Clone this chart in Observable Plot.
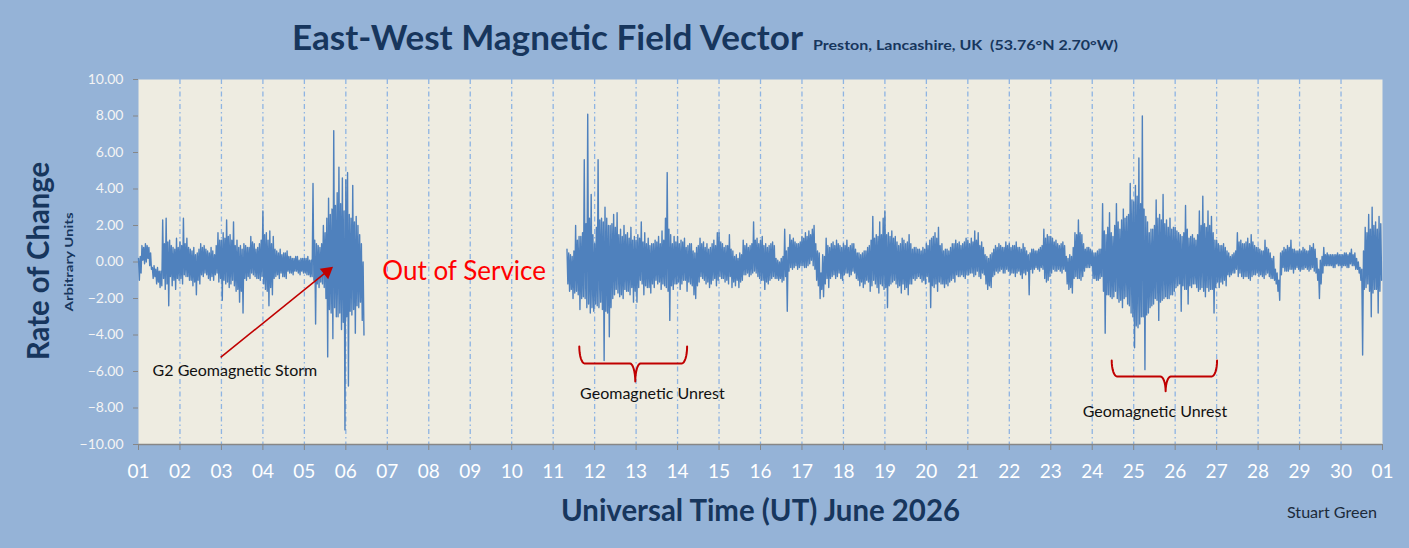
<!DOCTYPE html>
<html><head><meta charset="utf-8">
<script src="https://cdn.jsdelivr.net/npm/d3@7"></script>
<script src="https://cdn.jsdelivr.net/npm/@observablehq/plot@0.6"></script>
<style>
html,body{margin:0;padding:0;background:#95B3D7;}
#wrap{position:relative;width:1409px;height:548px;background:#95B3D7;overflow:hidden;font-family:Lato,sans-serif;}
#chart{position:absolute;left:0;top:0;}
#titles{position:absolute;left:0;top:0;pointer-events:none;}
</style></head><body>
<div id="wrap"><div id="chart"></div><svg id="titles" width="1409" height="548"></svg></div>
<script>
// ---- tick labels ----
const dayLabels = ["01","02","03","04","05","06","07","08","09","10","11","12","13","14","15","16","17","18","19","20","21","22","23","24","25","26","27","28","29","30","01"];
const yTicks = [-10,-8,-6,-4,-2,0,2,4,6,8,10];

// ---- hourly readings (rate of change, arbitrary units) ----
// junXX: the extreme reached in each hour; junXXc: the opposite extreme in the same hour
// segment 1: 1 June 00h .. 6 June 10h
const jun01  = [-1.0,0.3,0.9,-0.1,1.0,0.2,0.8,-0.4,-0.9,-0.2,-1.2,-0.3,-1.4,-0.5,2.3,-1.5,2.4,-2.4,1.2,-1.3,0.8,-1.5,1.3,-1.0];
const jun01c = [0.2,-0.6,0.1,0.8,0.0,0.9,-0.2,0.5,-0.3,-0.8,-0.4,-1.1,-0.5,-1.3,-0.9,1.0,-1.2,1.1,-0.8,0.9,-1.0,0.7,-0.9,0.8];
const jun02  = [1.1,-1.2,2.4,-0.8,1.3,-1.0,0.7,-1.3,0.8,-1.8,0.5,-1.2,1.0,-0.8,0.9,-0.7,0.6,-1.0,0.8,-1.0,0.4,-0.6,1.6,-0.9];
const jun02c = [-0.9,0.9,-0.7,1.0,-0.8,0.8,-1.0,0.6,-1.1,0.4,-1.0,0.7,-0.7,0.8,-0.6,0.7,-0.9,0.5,-0.8,0.6,-0.7,0.9,-1.1,1.2];
const jun03  = [-2.1,1.6,-1.2,2.3,-1.4,1.5,-1.0,2.2,-1.6,1.2,-2.2,0.9,-2.8,1.0,-1.0,0.8,-0.9,1.4,-0.7,1.0,-0.9,0.8,-1.0,1.2];
const jun03c = [1.2,-1.0,1.3,-1.1,1.4,-1.2,1.2,-1.3,0.9,-1.5,0.8,-1.6,0.7,-0.9,0.9,-0.8,0.8,-0.6,1.1,-0.8,0.7,-0.9,1.0,-0.8];
const jun04  = [2.8,-1.5,1.6,-2.4,1.7,-1.8,1.4,-0.8,0.6,-0.9,0.7,-0.8,0.5,-0.9,0.6,-0.6,0.3,-0.7,0.2,-0.5,0.3,-0.7,0.2,-0.6];
const jun04c = [-1.2,1.5,-1.6,1.2,-1.4,1.0,-0.9,0.7,-0.7,0.5,-0.6,0.4,-0.8,0.5,-0.5,0.3,-0.6,0.2,-0.5,0.3,-0.6,0.1,-0.5,0.2];
const jun05  = [0.2,-0.7,0.3,-0.8,0.1,4.3,-3.4,1.0,-1.4,0.8,-1.2,2.0,-2.0,-5.2,3.5,2.6,-4.2,7.2,-3.0,3.8,5.2,-3.7,4.6,-9.2];
const jun05c = [-0.6,0.2,-0.7,0.1,-0.8,-1.0,1.2,-1.2,0.9,-1.1,1.0,-1.4,1.6,2.4,-2.6,-2.8,2.9,-2.5,3.1,-3.0,-2.8,3.2,-3.3,2.8];
const jun06  = [4.5,-6.8,2.6,-2.9,4.2,-3.9,2.5,-2.5,1.5,-3.2,-4.0];
const jun06c = [-3.0,4.9,-2.7,2.4,-2.6,2.2,-2.4,2.0,-2.2,1.0,0.0];
// segment 2: 11 June 08h .. 30 June 23h
const jun11  = [0.7,-1.6,0.4,-2.0,0.6,2.0,-1.8,-2.6,1.4,-1.9,5.6,-2.5,8.1,-2.8,3.7,-2.7];
const jun11c = [-1.2,0.5,-1.5,0.3,-1.7,-1.6,1.2,1.4,-2.0,1.6,-2.0,2.1,-2.3,2.4,-2.5,1.5];
const jun12  = [1.0,-2.4,5.6,-2.2,2.4,-5.4,3.0,-2.8,-4.1,2.0,-2.0,2.6,-1.5,2.7,-1.9,1.8,-2.0,2.0,-1.6,1.6,-1.8,1.9,-2.2,1.4];
const jun12c = [-2.3,1.9,-2.5,2.3,-2.6,2.2,-2.7,2.4,2.0,-2.5,2.1,-1.8,1.9,-1.7,1.5,-1.8,1.4,-1.5,1.5,-1.6,1.3,-1.4,1.2,-1.6];
const jun13  = [-2.2,1.5,-1.0,2.2,-1.8,1.6,-1.4,1.3,-1.7,1.0,-1.4,1.2,-1.2,1.4,-1.5,1.7,-1.3,2.4,4.9,-3.2,1.5,-1.5,1.4,-1.2];
const jun13c = [1.2,-1.4,1.3,-1.2,1.1,-1.3,1.0,-1.4,0.9,-1.2,1.0,-1.0,1.1,-1.1,1.0,-1.2,1.2,-1.4,-1.6,1.8,-1.3,1.0,-1.2,1.1];
const jun14  = [1.4,-1.5,1.2,-1.0,1.3,-1.6,0.9,-1.2,1.0,-1.8,-2.0,0.8,-1.1,1.3,-0.9,1.1,-1.2,1.0,-1.4,0.8,-1.0,1.2,-1.3,1.6];
const jun14c = [-1.1,1.0,-1.2,1.1,-1.0,0.8,-1.1,1.0,-1.3,0.6,0.5,-1.3,0.9,-0.8,1.0,-1.0,0.8,-1.1,0.7,-1.2,1.0,-0.9,0.9,-1.0];
const jun15  = [1.6,-0.9,1.0,-1.1,0.9,-1.2,1.5,-1.4,0.6,-1.3,0.4,-1.4,0.5,-1.0,1.2,-0.7,1.0,-0.8,0.9,-0.6,2.2,-0.6,1.3,-0.9];
const jun15c = [-0.8,1.1,-0.9,0.8,-1.0,0.9,-0.8,0.7,-1.1,0.3,-1.0,0.2,-1.1,0.4,-0.7,0.9,-0.6,0.8,-0.7,1.0,-0.5,1.2,-0.8,1.0];
const jun16  = [-1.0,1.4,-1.5,1.0,-1.2,0.9,-0.9,1.1,-0.9,0.2,-1.0,0.0,-1.1,0.3,1.8,-2.7,0.8,1.5,-0.4,1.3,-0.2,1.0,-0.3,1.1];
const jun16c = [1.2,-1.0,0.9,-1.1,0.8,-1.0,1.0,-0.8,0.9,-0.9,0.1,-0.9,0.2,-1.0,-0.8,0.6,-0.5,-0.3,1.2,-0.3,1.1,-0.4,1.0,-0.2];
const jun17  = [1.4,-0.3,1.6,-0.2,1.7,0.1,1.8,2.0,-1.0,0.6,-2.0,-0.6,-1.9,0.3,1.3,-1.4,0.8,-0.8,1.1,-0.9,1.2,-0.6,0.9,-1.0];
const jun17c = [-0.2,1.3,-0.3,1.4,-0.1,1.5,-0.2,-0.4,1.0,-1.3,0.5,-1.5,0.4,-1.2,-0.9,0.9,-0.9,1.0,-0.7,0.9,-0.8,1.0,-0.9,0.8];
const jun18  = [1.0,-0.6,1.2,-0.8,0.9,-0.5,1.0,-0.9,0.5,-1.3,0.4,-1.4,0.6,-1.0,0.8,-1.6,1.2,2.5,-1.2,1.5,-1.7,2.2,-1.3,2.4];
const jun18c = [-0.7,0.9,-0.6,0.8,-0.7,1.0,-0.6,0.7,-1.0,0.5,-1.1,0.5,-1.2,0.6,-1.1,0.9,-1.3,-1.0,1.3,-1.4,1.4,-1.2,1.5,-1.5];
const jun19  = [2.8,-2.5,1.6,-1.2,1.7,-1.0,1.4,-1.4,0.9,-1.7,1.3,-1.5,1.0,-1.8,1.5,-1.2,0.7,-1.0,0.8,-0.8,0.7,-1.1,0.8,-1.2];
const jun19c = [-1.4,1.5,-1.3,1.4,-1.1,1.3,-1.2,1.1,-1.3,1.0,-1.2,1.2,-1.4,1.1,-1.2,1.0,-0.9,0.8,-0.9,0.7,-0.9,0.6,-1.0,0.7];
const jun20  = [-0.8,0.9,-2.5,1.3,-1.4,1.6,-1.6,1.9,-1.2,1.0,-1.4,0.7,-1.3,0.6,-1.0,1.0,-1.1,1.2,-0.8,1.1,-0.7,1.0,-0.9,1.3];
const jun20c = [1.0,-1.1,1.2,-1.3,1.4,-1.2,1.3,-1.1,0.9,-1.2,0.6,-1.2,0.7,-1.1,0.8,-0.9,1.0,-0.7,1.0,-0.8,0.9,-0.8,1.1,-0.7];
const jun21  = [1.2,-0.6,1.3,-0.8,1.7,-0.5,1.6,-0.9,1.1,-0.7,0.4,-1.5,0.2,-1.4,0.5,-0.7,0.9,-0.6,1.0,-0.4,0.8,-0.6,1.1,-0.5];
const jun21c = [-0.7,1.0,-0.6,1.1,-0.7,1.2,-0.8,0.9,-0.6,0.8,-1.2,0.3,-1.3,0.4,-0.8,0.7,-0.5,0.8,-0.5,0.9,-0.6,0.8,-0.4,0.9];
const jun22  = [1.0,-0.6,0.9,-0.8,1.1,-0.5,0.8,-0.9,1.0,-0.7,0.6,-1.8,0.5,-0.6,0.7,-0.3,0.6,-0.5,0.8,-0.4,1.8,-1.1,1.5,-0.8];
const jun22c = [-0.7,0.8,-0.6,0.9,-0.6,0.8,-0.7,0.7,-0.6,0.8,-0.5,0.4,-0.4,0.7,-0.4,0.6,-0.4,0.7,-0.3,0.9,-0.9,1.3,-1.0,1.4];
const jun23  = [-0.6,1.3,-0.5,1.2,-0.4,0.9,-0.6,1.1,-0.5,0.3,-1.5,0.4,-1.7,0.8,1.6,-0.9,2.3,-1.0,1.5,-0.5,0.7,-0.3,0.8,-0.2];
const jun23c = [1.4,-0.4,1.1,-0.5,1.0,-0.5,1.0,-0.4,0.9,-1.2,0.2,-1.4,0.3,-0.9,-0.8,1.5,-0.9,1.6,-0.8,1.0,-0.3,0.8,-0.3,0.7];
const jun24  = [0.6,-0.9,0.5,-1.0,0.7,-0.8,3.2,-3.9,1.5,-1.8,2.7,-2.0,1.4,-1.6,3.2,-2.2,1.8,-2.5,2.9,-1.9,2.5,-2.4,4.3,-3.0];
const jun24c = [-0.9,0.5,-1.0,0.6,-0.9,0.7,-1.6,1.7,-1.8,1.9,-1.9,1.6,-1.9,2.0,-2.0,2.2,-2.1,2.3,-2.0,2.4,-2.3,2.6,-2.8,3.4];
const jun25  = [-4.7,4.2,-3.6,5.7,-3.0,8.0,-5.9,2.5,-2.8,1.6,-2.4,1.8,-2.0,3.4,-3.2,2.6,-2.1,3.7,-1.9,2.3,-2.0,2.4,-1.8,1.9];
const jun25c = [3.3,-3.5,3.6,-3.4,3.2,-3.0,2.9,-2.9,2.2,-2.5,1.8,-2.3,2.0,-2.1,2.4,-2.2,2.3,-2.0,2.1,-2.0,1.9,-1.8,1.8,-1.6];
const jun26  = [1.9,-1.3,1.6,-2.7,1.4,-1.5,3.1,-2.3,1.3,-1.4,1.5,-1.2,1.2,-1.6,2.8,-1.4,3.6,-1.9,1.9,2.8,-1.5,2.5,-2.8,1.2];
const jun26c = [-1.4,1.7,-1.2,1.5,-1.3,1.6,-1.5,1.8,-1.3,1.4,-1.2,1.3,-1.4,1.5,-1.5,2.0,-1.6,2.1,-1.4,-1.6,2.0,-1.5,1.6,-1.4];
const jun27  = [1.2,-1.4,0.9,-1.2,1.0,-1.3,0.6,-0.8,0.3,-0.6,0.5,-0.4,1.6,-0.6,1.2,-0.9,1.0,-0.8,1.3,-1.0,1.5,-0.7,0.9,-0.6];
const jun27c = [-1.1,1.0,-1.1,0.9,-1.0,0.8,-0.7,0.5,-0.7,0.4,-0.6,0.6,-0.8,1.1,-0.8,1.0,-0.8,1.1,-0.9,1.0,-0.8,1.1,-0.7,0.8];
const jun28  = [0.8,-0.7,0.6,-0.9,1.2,-0.6,0.7,-0.9,0.2,-1.0,-0.4,-1.6,-2.1,0.5,-0.3,0.8,-0.5,0.9,-0.4,1.2,-0.6,0.7,-0.3,0.6];
const jun28c = [-0.8,0.7,-0.8,0.6,-0.7,0.8,-0.8,0.5,-0.9,0.3,-1.2,-0.6,-1.0,-0.7,0.6,-0.5,0.7,-0.5,0.8,-0.4,0.7,-0.4,0.6,-0.4];
const jun29  = [0.7,-0.4,0.8,-0.3,0.6,-0.5,0.9,-0.3,1.0,-0.6,0.2,-2.0,-1.2,0.3,0.8,-0.2,0.5,-0.2,0.4,-0.3,0.4,-0.1,0.5,-0.2];
const jun29c = [-0.5,0.6,-0.4,0.7,-0.4,0.6,-0.4,0.8,-0.5,0.7,-1.0,-0.4,0.1,-0.6,-0.2,0.4,-0.2,0.4,-0.2,0.4,-0.3,0.4,-0.2,0.4];
const jun30  = [0.4,-0.2,0.5,-0.3,0.4,-0.1,0.7,-0.2,0.5,-0.4,-0.6,-1.0,-5.1,0.6,1.9,-1.2,2.6,-3.0,3.0,-1.5,2.2,-2.8,2.5,-1.0];
const jun30c = [-0.3,0.4,-0.2,0.5,-0.3,0.5,-0.2,0.4,-0.4,0.2,0.0,-0.3,-0.4,-1.5,-1.4,1.6,-1.6,1.8,-1.7,2.0,-1.5,1.8,-1.6,2.1];

// [day of month, first hour, extremes, opposite extremes]
const segment1 = [[1,0,jun01,jun01c],[2,0,jun02,jun02c],[3,0,jun03,jun03c],[4,0,jun04,jun04c],[5,0,jun05,jun05c],[6,0,jun06,jun06c]];
const segment2 = [[11,8,jun11,jun11c],[12,0,jun12,jun12c],[13,0,jun13,jun13c],[14,0,jun14,jun14c],[15,0,jun15,jun15c],[16,0,jun16,jun16c],[17,0,jun17,jun17c],[18,0,jun18,jun18c],[19,0,jun19,jun19c],[20,0,jun20,jun20c],[21,0,jun21,jun21c],[22,0,jun22,jun22c],[23,0,jun23,jun23c],[24,0,jun24,jun24c],[25,0,jun25,jun25c],[26,0,jun26,jun26c],[27,0,jun27,jun27c],[28,0,jun28,jun28c],[29,0,jun29,jun29c],[30,0,jun30,jun30c]];

// ---- annotations (x in days since 1 June 00:00 UT, y in units) ----
const redNotes = [{x: 5.88, y: -0.52, text: "Out of Service"}];
const blackNotes = [
  {x: 0.34, y: -5.95, text: "G2 Geomagnetic Storm"},
  {x: 10.65, y: -7.2, text: "Geomagnetic Unrest"},
  {x: 22.77, y: -8.19, text: "Geomagnetic Unrest"}
];
const arrows = [{x1: 1.98, y1: -5.23, x2: 4.63, y2: -0.36}];
const braces = [
  {id: "b1", x0: 10.63, x1: 13.23, xc: 11.98, yTop: -4.63, yMid: -5.56, yTip: -6.55},
  {id: "b2", x0: 23.47, x1: 26.01, xc: 24.77, yTop: -5.40, yMid: -6.27, yTip: -7.08}
];

// ---- build rows: per hour, max then min (half an hour apart) ----
const rows = [];
for (const seg of [segment1, segment2]) {
  for (const [day, h0, a, b] of seg) {
    a.forEach((v, i) => {
      const t = (day - 1) + (h0 + i) / 24;
      rows.push({t, v: Math.max(v, b[i])});
      rows.push({t: t + 0.5 / 24, v: Math.min(v, b[i])});
    });
  }
  rows.push({t: rows[rows.length - 1].t + 0.01, v: NaN});
}

const braceRows = [];
const N = 8, rx = 0.13;
for (const b of braces) {
  const pts = [];
  for (let k = 0; k <= N; k++) { const th = k / N * Math.PI / 2;
    pts.push([b.x0 + rx * (1 - Math.cos(th)), b.yTop + (b.yMid - b.yTop) * Math.sin(th)]); }
  for (let k = 0; k <= N; k++) { const th = k / N * Math.PI / 2;
    pts.push([b.xc - rx + rx * Math.sin(th), b.yMid + (b.yTip - b.yMid) * (1 - Math.cos(th))]); }
  for (let k = N; k >= 0; k--) { const th = k / N * Math.PI / 2;
    pts.push([b.xc + rx - rx * Math.sin(th), b.yMid + (b.yTip - b.yMid) * (1 - Math.cos(th))]); }
  for (let k = N; k >= 0; k--) { const th = k / N * Math.PI / 2;
    pts.push([b.x1 - rx * (1 - Math.cos(th)), b.yTop + (b.yMid - b.yTop) * Math.sin(th)]); }
  pts.forEach(([x, y]) => braceRows.push({id: b.id, x, y}));
}

const dayTicks = d3.range(0, 31);
const gridDays = d3.range(1, 30);

const plot = Plot.plot({
  width: 1409, height: 548,
  marginLeft: 138, marginRight: 27, marginTop: 79, marginBottom: 104,
  style: {background: "transparent", fontFamily: "Lato, sans-serif", overflow: "visible"},
  x: {domain: [0, 30], label: null},
  y: {domain: [-10, 10], label: null},
  marks: [
    Plot.frame({fill: "#EEECE1", stroke: "none"}),
    Plot.ruleX(gridDays, {stroke: "#8EB4E3", strokeWidth: 1.3, strokeDasharray: "5,3,1.5,3"}),
    Plot.line(rows, {x: "t", y: "v", stroke: "#4F81BD", strokeWidth: 1.4}),
    Plot.ruleY([-10], {stroke: "#878787", strokeWidth: 1.5}),
    Plot.axisX({ticks: dayTicks, tickSize: 6, tickFormat: () => "", stroke: "#878787", label: null}),
    Plot.axisX({ticks: dayTicks, tickSize: 0, tickPadding: 20, tickFormat: i => dayLabels[i], fill: "#FFFFFF", fontSize: 19, label: null}),
    Plot.axisY({ticks: yTicks, tickSize: 5, tickPadding: 10, tickFormat: d3.format(".2f"), stroke: "#878787", fill: "#F4F4F4", fontSize: 14, label: null}),
    Plot.line(braceRows, {x: "x", y: "y", z: "id", stroke: "#C00000", strokeWidth: 2}),
    Plot.link(arrows, {x1: "x1", y1: "y1", x2: "x2", y2: "y2", stroke: "#C00000", strokeWidth: 1.6}),
    Plot.dot(arrows, {x: "x2", y: "y2", symbol: "triangle", r: 5, fill: "#C00000", stroke: "none", rotate: 51, dx: -3.5, dy: 3}),
    Plot.text(redNotes, {x: "x", y: "y", text: "text", fill: "#FF0000", fontSize: 26, textAnchor: "start"}),
    Plot.text(blackNotes, {x: "x", y: "y", text: "text", fill: "#111111", fontSize: 16, textAnchor: "start"})
  ]
});
document.getElementById("chart").appendChild(plot);

// ---- titles ----
const titles = [
  {text: "East-West Magnetic Field Vector", x: 292, y: 50, size: 35, weight: 700, len: 511, fill: "#17365D"},
  {text: "Preston, Lancashire, UK  (53.76°N 2.70°W)", x: 813, y: 50, size: 14, weight: 700, len: 305, fill: "#17365D"},
  {text: "Universal Time (UT) June 2026", x: 561, y: 521, size: 30, weight: 700, len: 399, fill: "#17365D"},
  {text: "Stuart Green", x: 1287, y: 518, size: 15, weight: 400, len: 90, fill: "#1B2A3A"},
  {text: "Rate of Change", x: 0, y: 0, size: 30, weight: 700, len: 198, fill: "#17365D", rot: [49, 261]},
  {text: "Arbitrary Units", x: 0, y: 0, size: 12, weight: 700, len: 99, fill: "#17365D", rot: [73, 262]}
];
const svg = d3.select("#titles");
for (const t of titles) {
  const el = svg.append("text")
    .attr("x", t.x).attr("y", t.y)
    .attr("font-family", "Lato, sans-serif")
    .attr("font-size", t.size).attr("font-weight", t.weight)
    .attr("fill", t.fill)
    .attr("textLength", t.len).attr("lengthAdjust", "spacingAndGlyphs")
    .attr("xml:space", "preserve")
    .style("white-space", "pre")
    .text(t.text);
  if (t.rot) el.attr("text-anchor", "middle").attr("transform", `translate(${t.rot[0]},${t.rot[1]}) rotate(-90)`);
}
</script>
</body></html>
